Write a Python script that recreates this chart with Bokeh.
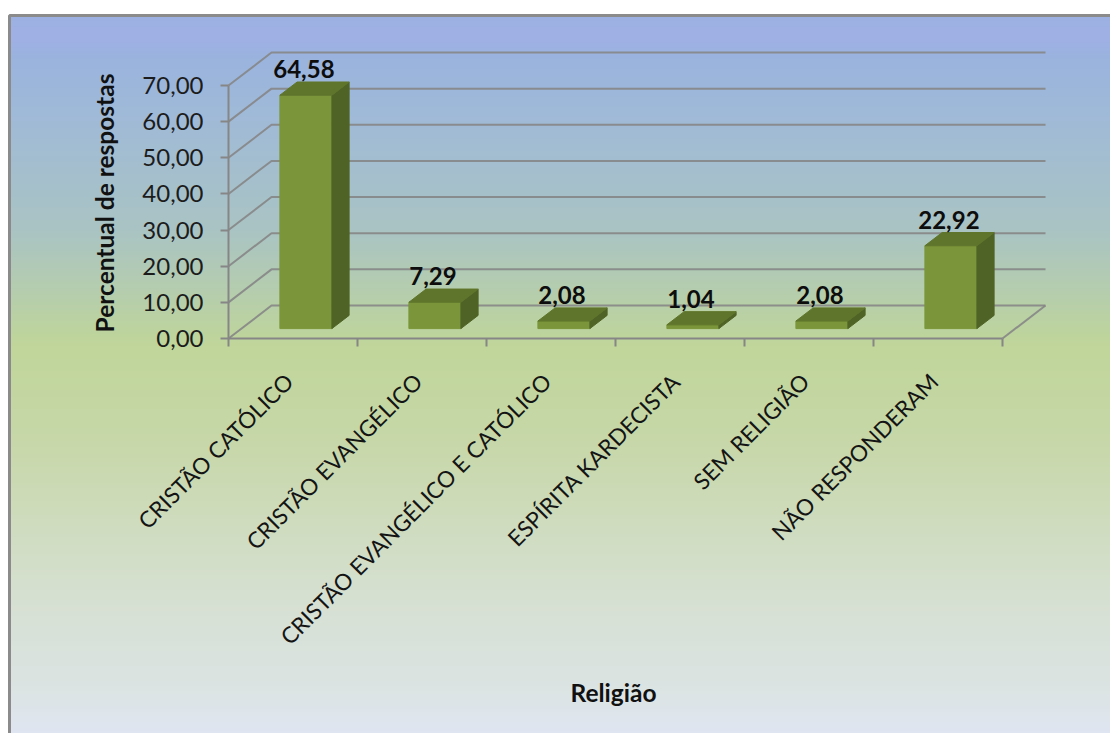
from math import pi

import numpy as np
from bokeh.core.properties import value
from bokeh.embed import file_html
from bokeh.models import ColumnDataSource, FixedTicker, LinearAxis, Range1d
from bokeh.plotting import figure
from bokeh.resources import INLINE

# Survey results
categories = [
    "CRISTÃO CATÓLICO",
    "CRISTÃO EVANGÉLICO",
    "CRISTÃO EVANGÉLICO E CATÓLICO",
    "ESPÍRITA KARDECISTA",
    "SEM RELIGIÃO",
    "NÃO RESPONDERAM",
]
percentages = [64.58, 7.29, 2.08, 1.04, 2.08, 22.92]
y_ticks = [0, 10, 20, 30, 40, 50, 60, 70]
y_tick_labels = ["0,00", "10,00", "20,00", "30,00", "40,00", "50,00", "60,00", "70,00"]

# Chart area vertical gradient: (fraction from top, colour)
gradient_stops = [0.0, 0.03, 0.06, 0.14, 0.30, 0.46, 0.60, 0.80, 0.94, 1.0]
gradient_red = [156, 160, 154, 160, 170, 192, 200, 214, 220, 224]
gradient_green = [178, 176, 180, 186, 196, 214, 216, 224, 228, 230]
gradient_blue = [226, 230, 222, 216, 196, 154, 170, 208, 228, 242]

# Layout of the pseudo-3D chart, in page pixels
WIDTH, HEIGHT = 1110, 733
ORIGIN_X, ORIGIN_Y = 228, 338
CATEGORY_PX = 129
VALUE_PX = 253 / 70
WALL_DX_PX, WALL_DY_PX = 43, 33
BAR_WIDTH = 52 / CATEGORY_PX
BAR_FRONT, BAR_BACK = 0.3, 0.7

WALL_DX = WALL_DX_PX / CATEGORY_PX
WALL_DY = WALL_DY_PX / VALUE_PX


def data_x(px):
    return (px - ORIGIN_X) / CATEGORY_PX


def data_y(py):
    return (ORIGIN_Y - py) / VALUE_PX


p = figure(
    width=WIDTH,
    height=HEIGHT,
    x_range=Range1d(data_x(0), data_x(WIDTH)),
    y_range=Range1d(data_y(HEIGHT), data_y(0)),
    x_axis_location=None,
    y_axis_location=None,
    toolbar_location=None,
    output_backend="svg",
    min_border=0,
    background_fill_color="white",
    border_fill_color="white",
    outline_line_color=None,
)
p.grid.visible = False

# Background gradient
rows = HEIGHT - 15
t = (np.arange(rows) + 0.5) / rows
rgba = np.zeros((rows, 2), dtype=np.uint32)
view = rgba.view(np.uint8).reshape(rows, 2, 4)
# image rows run bottom-up in data space
view[:, :, 0] = np.interp(t[::-1], gradient_stops, gradient_red)[:, None]
view[:, :, 1] = np.interp(t[::-1], gradient_stops, gradient_green)[:, None]
view[:, :, 2] = np.interp(t[::-1], gradient_stops, gradient_blue)[:, None]
view[:, :, 3] = 255
p.image_rgba(
    image=[rgba],
    x=data_x(9),
    y=data_y(HEIGHT),
    dw=data_x(WIDTH) - data_x(9),
    dh=data_y(15) - data_y(HEIGHT),
)

# Chart area border, left and top
p.line(
    [data_x(9), data_x(9), data_x(WIDTH)],
    [data_y(HEIGHT), data_y(15), data_y(15)],
    line_color="#8b8b8b",
    line_width=3,
)

GRID = dict(line_color="#868686", line_width=2, line_alpha=0.9)

# Back wall and side wall gridlines
n = len(categories)
for tick in y_ticks:
    p.line(
        [0, WALL_DX, n + WALL_DX],
        [tick, tick + WALL_DY, tick + WALL_DY],
        **GRID,
    )

# Right edge of the floor
p.line([n, n + WALL_DX], [0, WALL_DY], **GRID)


def shifted(cat_x, val, depth):
    return cat_x + depth * WALL_DX, val + depth * WALL_DY


fronts_x, fronts_y, sides_x, sides_y, tops_x, tops_y = [], [], [], [], [], []
label_x, label_y, label_text = [], [], []
for i, v in enumerate(percentages):
    left = i + 0.5 - BAR_WIDTH / 2
    right = i + 0.5 + BAR_WIDTH / 2
    corners = [
        shifted(left, 0, BAR_FRONT),
        shifted(right, 0, BAR_FRONT),
        shifted(right, v, BAR_FRONT),
        shifted(left, v, BAR_FRONT),
    ]
    fronts_x.append([c[0] for c in corners])
    fronts_y.append([c[1] for c in corners])
    side = [
        shifted(right, 0, BAR_FRONT),
        shifted(right, 0, BAR_BACK),
        shifted(right, v, BAR_BACK),
        shifted(right, v, BAR_FRONT),
    ]
    sides_x.append([c[0] for c in side])
    sides_y.append([c[1] for c in side])
    top = [
        shifted(left, v, BAR_FRONT),
        shifted(right, v, BAR_FRONT),
        shifted(right, v, BAR_BACK),
        shifted(left, v, BAR_BACK),
    ]
    tops_x.append([c[0] for c in top])
    tops_y.append([c[1] for c in top])
    label_x.append(shifted(i + 0.5, v, BAR_FRONT)[0])
    label_y.append(shifted(i + 0.5, v, BAR_BACK)[1])
    label_text.append(f"{v:.2f}".replace(".", ","))

p.patches(fronts_x, fronts_y, fill_color="#7b963a", line_color="#7b963a", line_width=1)
p.patches(sides_x, sides_y, fill_color="#4f6326", line_color="#4f6326", line_width=1)
p.patches(tops_x, tops_y, fill_color="#5f752b", line_color="#5f752b", line_width=1)

p.text(
    x="x",
    y="y",
    text="text",
    source=ColumnDataSource(dict(x=label_x, y=label_y, text=label_text)),
    text_font=value("Lato"),
    text_font_style="bold",
    text_font_size="24px",
    text_color="#0d0d0d",
    text_align="center",
    text_baseline="middle",
    x_offset=-2,
    y_offset=-13,
)

# Axes
FONT = "Lato"
y_axis = LinearAxis(
    fixed_location=0,
    bounds=(0, 70),
    ticker=FixedTicker(ticks=y_ticks),
    major_label_overrides=dict(zip(y_ticks, y_tick_labels)),
    major_label_text_font=FONT,
    major_label_text_font_size="24px",
    major_label_text_color="#1c1c1c",
    major_label_standoff=17,
    major_tick_in=0,
    major_tick_out=8,
    minor_tick_in=0,
    minor_tick_out=0,
    axis_line_color="#868686",
    axis_line_width=2,
    major_tick_line_color="#868686",
    major_tick_line_width=2,
)
p.add_layout(y_axis, "left")

# Category labels sit at the column centres; minor ticks mark the column edges
centres = [i + 0.5 - 4 / CATEGORY_PX for i in range(n)]
x_axis = LinearAxis(
    fixed_location=0,
    bounds=(0, n),
    ticker=FixedTicker(ticks=centres, minor_ticks=list(range(n + 1))),
    major_label_overrides=dict(zip(centres, categories)),
    major_label_orientation=pi / 4,
    major_label_text_font=FONT,
    major_label_text_font_size="22.5px",
    major_label_text_color="#141414",
    major_label_standoff=31,
    major_tick_in=0,
    major_tick_out=0,
    minor_tick_in=0,
    minor_tick_out=8,
    axis_line_color="#868686",
    axis_line_width=2,
    minor_tick_line_color="#868686",
    minor_tick_line_width=2,
)
p.add_layout(x_axis, "below")

# Axis titles
p.text(
    x=[data_x(104)],
    y=[data_y(202.5)],
    text=["Percentual de respostas"],
    angle=pi / 2,
    text_font=value(FONT),
    text_font_style="bold",
    text_font_size="24.5px",
    text_color="#111111",
    text_align="center",
    text_baseline="middle",
)
p.text(
    x=[data_x(613)],
    y=[data_y(692)],
    text=["Religião"],
    text_font=value(FONT),
    text_font_style="bold",
    text_font_size="24.5px",
    text_color="#111111",
    text_align="center",
    text_baseline="middle",
)

open("out.html", "w").write(file_html(p, INLINE))
